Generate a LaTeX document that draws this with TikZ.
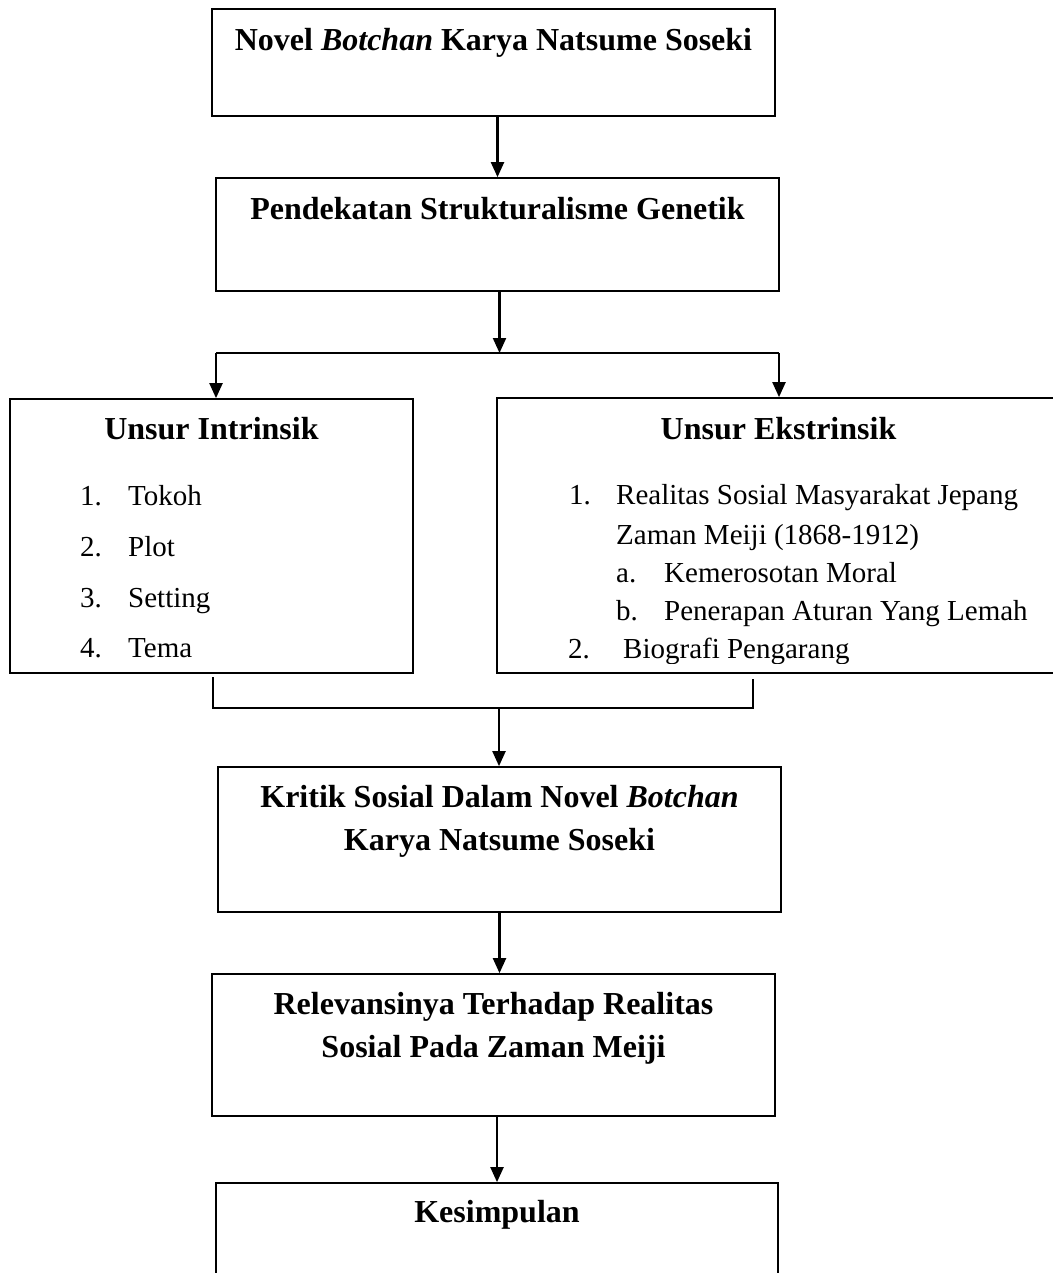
\documentclass[tikz,border=0pt]{standalone}
\usepackage{fontspec}
\setmainfont{Liberation Serif}
\usetikzlibrary{arrows.meta, positioning}

\begin{document}
\begin{tikzpicture}[
    x=1pt, y=-1pt,
    frame/.style={draw, line width=1.7pt, minimum width=563pt, inner sep=0pt},
    head/.style={font=\fontsize{32}{43}\selectfont\bfseries, align=center, anchor=base, inner sep=0pt},
    item/.style={font=\fontsize{29}{35}\selectfont, anchor=base west, inner sep=0pt},
    arrow/.style={-{Triangle[length=15pt, width=13pt]}, line width=2.1pt},
    link/.style={line width=1.6pt}
]
\useasboundingbox (0,0) rectangle (1052,1273);

% Boxes
\node[frame, minimum height=107pt] (novel) at (493.5,62.5) {};
\node[frame, minimum height=113pt] (genetik) at (497.5,234.5) {};
\node[frame, minimum width=403pt, minimum height=274pt] (intrinsik) at (211.5,536) {};
\node[frame, minimum height=275pt] (ekstrinsik) at (778.5,535.5) {};
\node[frame, minimum height=145pt] (kritik) at (499.5,839.5) {};
\node[frame, minimum height=142pt] (relevansi) at (493.5,1045) {};
\node[frame, minimum width=562pt, minimum height=117pt] (simpulan) at (497,1241.5) {};

% Box titles (two-line titles sit on their last baseline)
\node[head] (novelT) at ([yshift=-42pt]novel.north) {Novel \textit{Botchan} Karya Natsume Soseki};
\node[head] (genetikT) at ([yshift=-42pt]genetik.north) {Pendekatan Strukturalisme Genetik};
\node[head] (intrinsikT) at ([yshift=-41pt]intrinsik.north) {Unsur Intrinsik};
\node[head] (ekstrinsikT) at ([yshift=-42pt]ekstrinsik.north) {Unsur Ekstrinsik};
\node[head] (kritikT) at ([yshift=-84pt]kritik.north) {Kritik Sosial Dalam Novel \textit{Botchan}\\Karya Natsume Soseki};
\node[head] (relevansiT) at ([yshift=-84pt]relevansi.north) {Relevansinya Terhadap Realitas\\Sosial Pada Zaman Meiji};
\node[head] (simpulanT) at ([yshift=-40pt]simpulan.north) {Kesimpulan};

% Intrinsic items
\node[item] (tokoh) at (80,505) {\makebox[48pt][l]{1.}Tokoh};
\node[item] (plot) at (80,556) {\makebox[48pt][l]{2.}Plot};
\node[item] (setting) at (80,607) {\makebox[48pt][l]{3.}Setting};
\node[item] (tema) at (80,657) {\makebox[48pt][l]{4.}Tema};

% Extrinsic items
\node[item] (realitas) at (569,504) {\makebox[47pt][l]{1.}Realitas Sosial Masyarakat Jepang};
\node[item] (zaman) at (616,544) {Zaman Meiji (1868-1912)};
\node[item] (moral) at (616,582) {\makebox[48pt][l]{a.}Kemerosotan Moral};
\node[item] (aturan) at (616,620) {\makebox[48pt][l]{b.}Penerapan Aturan Yang Lemah};
\begin{scope}
\clip (497,630) rectangle (1052,663);
\node[item] (biografi) at (568,658) {\makebox[55pt][l]{2.}Biografi Pengarang};
\end{scope}

% Split and join points
\coordinate (split) at (499.5,353);
\coordinate (splitL) at (216,353);
\coordinate (splitR) at (779,353);
\coordinate (intrEnd) at (213,677);
\coordinate (ekstrEnd) at (753,679);
\coordinate (joinL) at (213,708);
\coordinate (joinR) at (753,708);
\coordinate (join) at (499,708);

% Arrows
\draw[arrow] (novel.south -| genetik) -- (genetik.north);
\draw[arrow] (genetik.south -| split) -- (split);
\draw[link] (splitL) -- (splitR);
\draw[arrow] (splitL) -- (splitL |- intrinsik.north);
\draw[arrow] (splitR) -- (splitR |- ekstrinsik.north);
\draw[link] (intrEnd) -- (joinL) -- (joinR) -- (ekstrEnd);
\draw[arrow] (join) -- (join |- kritik.north);
\draw[arrow] (kritik.south) -- (kritik.south |- relevansi.north);
\draw[arrow] (relevansi.south -| simpulan) -- (simpulan.north);

\end{tikzpicture}
\end{document}
